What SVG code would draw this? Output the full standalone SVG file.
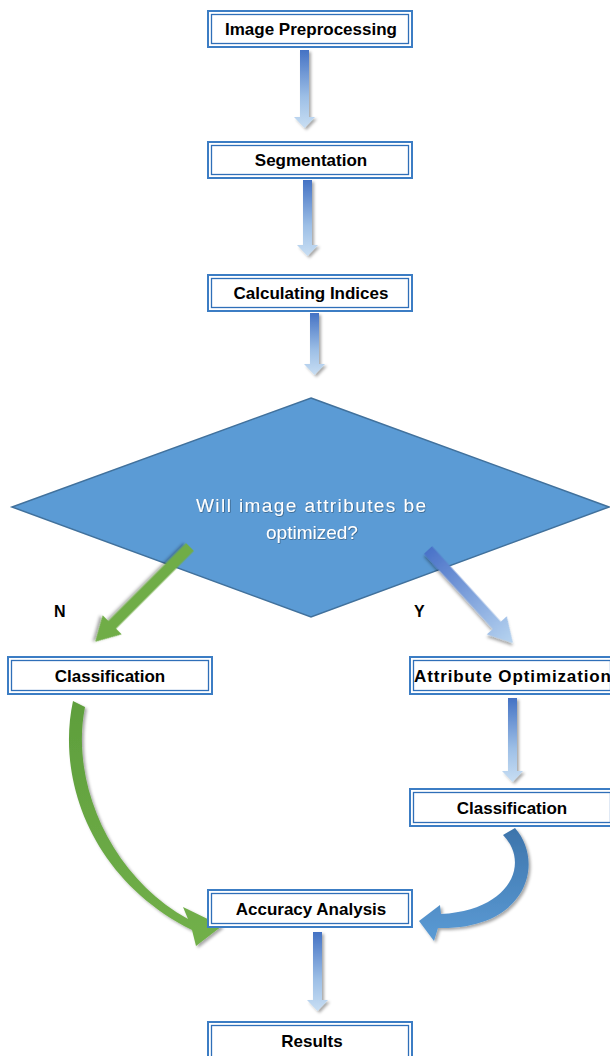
<svg xmlns="http://www.w3.org/2000/svg" width="610" height="1056" viewBox="0 0 610 1056">
<defs>
<style>
.box{fill:#fff;stroke:#3c7dc4;stroke-width:2}
.inner{fill:none;stroke:#2f6fb8;stroke-width:1.3}
.lbl{font-family:"Liberation Sans",Arial,sans-serif;font-weight:bold;font-size:17px;fill:#000;text-anchor:middle}
.yn{font-family:"Liberation Sans",Arial,sans-serif;font-weight:bold;font-size:16px;fill:#000}
.q{font-family:"Liberation Sans",Arial,sans-serif;font-size:19px;fill:#fff;text-anchor:middle}
.down{fill:url(#gDown);filter:url(#sh)}
</style>
<linearGradient id="gDown" x1="0" y1="0" x2="0" y2="1">
<stop offset="0" stop-color="#4472c4"/>
<stop offset="0.6" stop-color="#9dbfe6"/>
<stop offset="1" stop-color="#c8def3"/>
</linearGradient>
<linearGradient id="gDiag" x1="0" y1="0" x2="1" y2="0">
<stop offset="0" stop-color="#4a72c8"/>
<stop offset="1" stop-color="#b7d4f0"/>
</linearGradient>
<linearGradient id="gGreen" x1="0" y1="0" x2="0" y2="1">
<stop offset="0" stop-color="#5e9e3c"/>
<stop offset="1" stop-color="#72b04a"/>
</linearGradient>
<linearGradient id="gBlue" x1="0" y1="0" x2="0" y2="1">
<stop offset="0" stop-color="#3d74ab"/>
<stop offset="1" stop-color="#5b9bd5"/>
</linearGradient>
<filter id="sh" x="-30%" y="-30%" width="160%" height="160%">
<feDropShadow dx="2" dy="2" stdDeviation="1.6" flood-color="#000" flood-opacity="0.35"/>
</filter>
<filter id="tsh" x="-10%" y="-30%" width="120%" height="160%">
<feDropShadow dx="0.6" dy="0.6" stdDeviation="0.4" flood-color="#000" flood-opacity="0.5"/>
</filter>
</defs>
<rect width="610" height="1056" fill="#fff"/>

<g id="decision">
<polygon points="311,398 609,507 311,617 12,507" fill="#5b9bd5" stroke="#41719c" stroke-width="1.5"/>
<text class="q" filter="url(#tsh)" x="311" y="512" textLength="230" lengthAdjust="spacing">Will image attributes be</text>
<text class="q" filter="url(#tsh)" x="312" y="539">optimized?</text>
</g>

<g id="connectors">
<path class="down" d="M300 50H309V117H315L304.5 128L294 117H300Z"/>
<path class="down" d="M303 180H312V245H318L307.5 256L297 245H303Z"/>
<path class="down" d="M310 313H319V364H325L314.5 375L304 364H310Z"/>
<path class="down" d="M508 698H517V771H523L512.5 782L502 771H508Z"/>
<path class="down" d="M313 932H322V1000H328L317.5 1011L307 1000H313Z"/>
<g transform="translate(190,547) rotate(135)" filter="url(#sh)">
<path d="M0 -5.5H110V-13.5L134 0L110 13.5V5.5H0Z" fill="#70ad47"/>
</g>
<g transform="translate(428,550) rotate(47.6)" filter="url(#sh)">
<path d="M0 -5.5H102V-13.5L126 0L102 13.5V5.5H0Z" fill="url(#gDiag)"/>
</g>
<path d="M73 701C56 780 92 880 192 930L196 946L222 926L183 907L188 919C110 876 70 782 85 707Z" fill="url(#gGreen)" filter="url(#sh)"/>
<path d="M515 828C545 862 528 930 438 928L434 941L419 921L440 905L441 914C512 910 530 862 503 835Z" fill="url(#gBlue)" filter="url(#sh)"/>
<text class="yn" x="54" y="617">N</text>
<text class="yn" x="414" y="617">Y</text>
</g>

<g id="n1">
<rect class="box" x="208" y="11" width="204" height="36"/>
<rect class="inner" x="211.5" y="14.5" width="197" height="29"/>
<text class="lbl" x="311" y="35">Image Preprocessing</text>
</g>
<g id="n2">
<rect class="box" x="208" y="142" width="204" height="36"/>
<rect class="inner" x="211.5" y="145.5" width="197" height="29"/>
<text class="lbl" x="311" y="166">Segmentation</text>
</g>
<g id="n3">
<rect class="box" x="208" y="275" width="204" height="36"/>
<rect class="inner" x="211.5" y="278.5" width="197" height="29"/>
<text class="lbl" x="311" y="299">Calculating Indices</text>
</g>
<g id="n4">
<rect class="box" x="8" y="657" width="204" height="37"/>
<rect class="inner" x="11.5" y="660.5" width="197" height="30"/>
<text class="lbl" x="110" y="682">Classification</text>
</g>
<g id="n5">
<rect class="box" x="410" y="657" width="204" height="37"/>
<rect class="inner" x="413.5" y="660.5" width="197" height="30"/>
<text class="lbl" x="414" y="682" style="text-anchor:start" textLength="197" lengthAdjust="spacing">Attribute Optimization</text>
</g>
<g id="n6">
<rect class="box" x="410" y="789" width="204" height="37"/>
<rect class="inner" x="413.5" y="792.5" width="197" height="30"/>
<text class="lbl" x="512" y="814">Classification</text>
</g>
<g id="n7">
<rect class="box" x="208" y="890" width="204" height="37"/>
<rect class="inner" x="211.5" y="893.5" width="197" height="30"/>
<text class="lbl" x="311" y="915">Accuracy Analysis</text>
</g>
<g id="n8">
<rect class="box" x="208" y="1022" width="204" height="40"/>
<rect class="inner" x="211.5" y="1025.5" width="197" height="40"/>
<text class="lbl" x="312" y="1047">Results</text>
</g>
</svg>
